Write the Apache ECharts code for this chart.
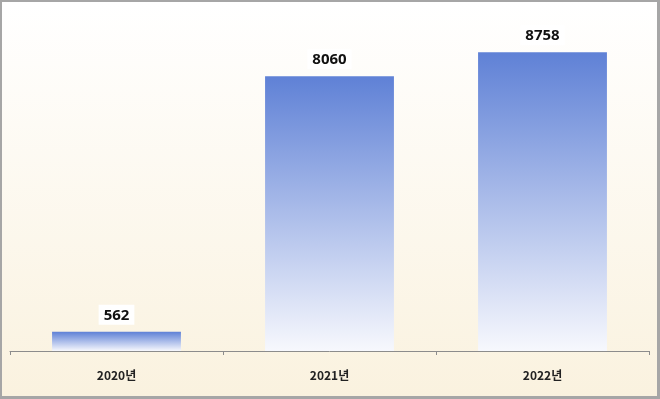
<!DOCTYPE html>
<html>
<head>
<meta charset="utf-8">
<script src="https://cdn.jsdelivr.net/npm/echarts@6/dist/echarts.min.js"></script>
<style>
  html, body { margin: 0; padding: 0; background: #fff; }
  #chart { width: 660px; height: 399px; box-sizing: border-box; border: 2px solid #a6a6a6; border-right-width: 3px; border-bottom-width: 3px; }
</style>
</head>
<body>
<div id="chart"></div>
<script>
const years = ['2020년', '2021년', '2022년']
const counts = [562, 8060, 8758]

const chart = echarts.init(document.getElementById('chart'))

// each bar fades from blue at the top to white at the base
const barFill = new echarts.graphic.LinearGradient(0, 0, 0, 1, [
  { offset: 0, color: '#5f81d6' },
  { offset: 1, color: '#f7f8fd' }
])

const option = {
  backgroundColor: new echarts.graphic.LinearGradient(0, 0, 0, 1, [
    { offset: 0, color: '#ffffff' },
    { offset: 1, color: '#faf2df' }
  ]),
  animation: false,
  grid: {
    left: 8,
    right: 8,
    top: 8,
    bottom: 45
  },
  xAxis: {
    type: 'category',
    data: years,
    axisLine: { lineStyle: { color: '#8c8c8c', width: 1 } },
    axisTick: { show: true, length: 4, lineStyle: { color: '#8c8c8c' } },
    axisLabel: {
      margin: 18,
      fontSize: 12,
      fontWeight: 'bold',
      color: '#222',
      fontFamily: '"Noto Sans CJK KR", "Noto Sans", sans-serif'
    }
  },
  yAxis: {
    type: 'value',
    min: 0,
    max: 10000,
    show: false,
    splitLine: { show: false }
  },
  series: [
    {
      type: 'bar',
      data: counts,
      barWidth: '60.5%',
      itemStyle: { color: barFill },
      label: {
        show: true,
        position: 'top',
        distance: 7,
        fontSize: 15,
        fontWeight: 'bold',
        color: '#111',
        backgroundColor: '#ffffff',
        padding: [3, 5, 2, 5],
        fontFamily: '"Noto Sans", "DejaVu Sans", sans-serif'
      }
    }
  ]
}

chart.setOption(option)
</script>
</body>
</html>
